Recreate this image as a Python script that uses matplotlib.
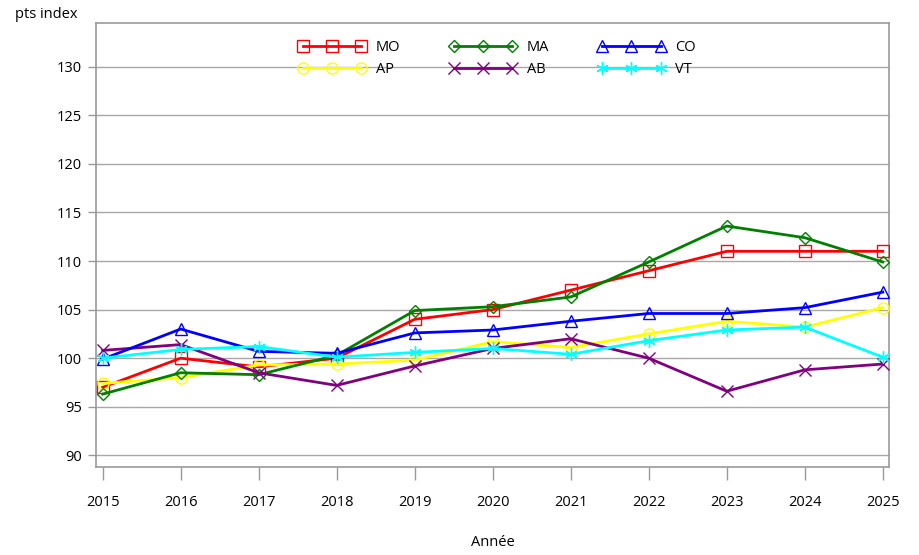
import matplotlib
matplotlib.use("Agg")
import matplotlib.pyplot as plt

plt.rcParams['font.family'] = ['Open Sans', 'DejaVu Sans']

# -------------------------------
# Data (index points)
# -------------------------------
years = [2015, 2016, 2017, 2018, 2019, 2020, 2021, 2022, 2023, 2024, 2025]
mo = [97.0, 100.0, 99.1, 100.0, 104.0, 105.0, 107.0, 109.0, 111.0, 111.0, 111.0]
ma = [96.3, 98.5, 98.3, 100.3, 104.9, 105.3, 106.3, 109.9, 113.6, 112.4, 109.9]
co = [99.9, 103.0, 100.7, 100.5, 102.6, 102.9, 103.8, 104.6, 104.6, 105.2, 106.8]
ap = [97.4, 98.0, 99.3, 99.4, 99.8, 101.7, 101.1, 102.5, 103.8, 103.2, 105.2]
ab = [100.8, 101.4, 98.5, 97.2, 99.2, 101.0, 102.0, 100.0, 96.6, 98.8, 99.4]
vt = [100.0, 100.9, 101.2, 100.1, 100.6, 101.0, 100.4, 101.8, 102.9, 103.2, 100.1]

y_ticks = [90, 95, 100, 105, 110, 115, 120, 125, 130]

# label, values, colour, marker, marker size
series = [
    ("MO", mo, "#ff0000", "s", 8),
    ("AP", ap, "#ffff00", "o", 8),
    ("MA", ma, "#008000", "D", 6),
    ("AB", ab, "#800080", "x", 8),
    ("CO", co, "#0000ff", "^", 8),
    ("VT", vt, "#00ffff", (6, 2, 0), 9),
]

FS = 10.5

fig = plt.figure(figsize=(9.19, 5.55), dpi=100)
ax = fig.add_axes([96 / 919, 1 - 467 / 555, (889 - 96) / 919, (467 - 22.5) / 555])

for label, vals, color, marker, ms in series:
    ax.plot(years, vals, color=color, linewidth=2, marker=marker, markersize=ms,
            markerfacecolor="none", markeredgecolor=color, markeredgewidth=1,
            label=label, zorder=3)

ax.set_xlim(2014.915, 2025.08)
ax.set_ylim(88.8, 134.55)
ax.set_xticks(years)
ax.set_yticks(y_ticks)
ax.yaxis.grid(True, color="#a8a8a8", linewidth=1)
ax.set_axisbelow(True)

for sp in ax.spines.values():
    sp.set_color("#999999")
    sp.set_linewidth(1.2)

ax.tick_params(axis="x", length=9, width=1, color="#999999", pad=11, labelsize=FS)
ax.tick_params(axis="y", length=6, width=1, color="#999999", pad=4, labelsize=FS)

ax.set_xlabel("Année", fontsize=FS, labelpad=18)
fig.text(15 / 919, 1 - 14 / 555, "pts index", fontsize=FS, va="center", ha="left")

leg = ax.legend(loc="upper center", bbox_to_anchor=(0.506, 0.99), ncol=3, frameon=False,
                numpoints=3, handlelength=4.6, columnspacing=3.35, handletextpad=0.7,
                labelspacing=0.45, fontsize=FS)

plt.savefig("out.png", dpi=100)
